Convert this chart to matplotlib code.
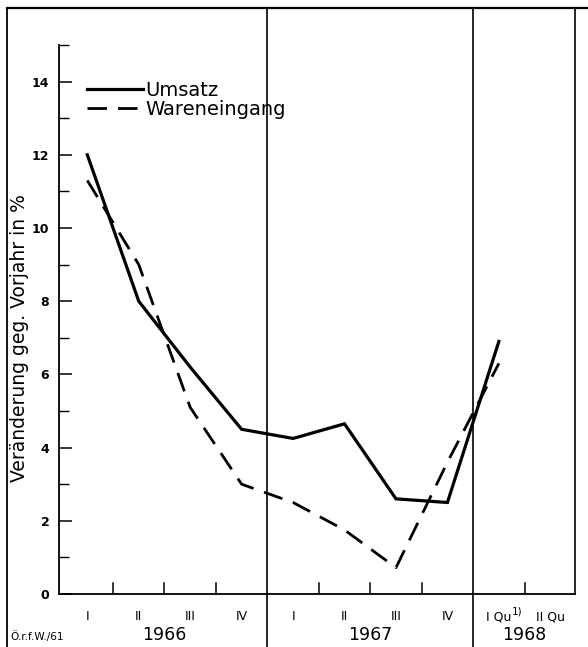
import matplotlib.pyplot as plt
from matplotlib.lines import Line2D

# quarters: 1966 I..IV, 1967 I..IV, 1968 I
quarters = ['I', 'II', 'III', 'IV', 'I', 'II', 'III', 'IV', 'I Qu', 'II Qu']
years = ['1966', '1967', '1968']
umsatz = [12.0, 8.0, 6.2, 4.5, 4.25, 4.65, 2.6, 2.5, 6.9]
wareneingang = [11.3, 9.0, 5.1, 3.0, 2.5, 1.75, 0.72, 3.6, 6.3]

W, H = 588, 647
fig = plt.figure(figsize=(W / 100, H / 100), dpi=100)
ax = fig.add_axes([59 / W, 53 / H, 516 / W, 549 / H])

x = list(range(len(umsatz)))
ax.plot(x, umsatz, color='black', lw=2.3, solid_joinstyle='miter', label='Umsatz')
ax.plot(x, wareneingang, color='black', lw=2.0, dashes=(7, 4), label='Wareneingang')

ax.set_xlim(-0.55, 9.48)
ax.set_ylim(0, 15)

# axes frame: left and bottom only, plus year separators
for s in ['top', 'right']:
    ax.spines[s].set_visible(False)
for s in ['left', 'bottom']:
    ax.spines[s].set_linewidth(1.3)

yt_top = (H - 8) / H
fig_bottom = -53 / 549
top_ax = (yt_top * H - 53) / 549
for xs in [3.5, 7.5]:
    ax.plot([xs, xs], [fig_bottom, top_ax], color='black', lw=1.2,
            transform=ax.get_xaxis_transform(), clip_on=False)
ax.plot([9.48, 9.48], [0, top_ax], color='black', lw=1.2,
        transform=ax.get_xaxis_transform(), clip_on=False)

# outer frame (top and left)
fig.add_artist(Line2D([7 / W, 1], [yt_top, yt_top], color='black', lw=1.6))
fig.add_artist(Line2D([7 / W, 7 / W], [0, yt_top], color='black', lw=1.3))

# y ticks
ax.set_yticks(range(0, 15, 2))
ax.set_yticks(range(1, 16, 2), minor=True)
ax.tick_params(axis='y', which='major', direction='in', length=9, width=1.1,
               labelsize=9, pad=7)
ax.tick_params(axis='y', which='minor', direction='in', length=7, width=1.0)
ax.tick_params(axis='x', which='both', bottom=False, labelbottom=False)
for lab in ax.get_yticklabels():
    lab.set_fontweight('bold')

# quarter boundary ticks on the x axis
for xb in [0.5, 1.5, 2.5, 4.5, 5.5, 6.5, 8.5]:
    ax.plot([xb, xb], [0, 0.3], color='black', lw=1.1, clip_on=False)

# quarter labels
trans = ax.get_xaxis_transform()
for i, q in enumerate(quarters):
    ax.text(i, -23 / 549, q, ha='center', va='center', fontsize=9,
            transform=trans)
ax.text(8.25, -18 / 549, '1)', ha='left', va='center', fontsize=7.5,
        transform=trans)
for i, yr in enumerate(years):
    xc = [1.5, 5.5, 8.5][i]
    ax.text(xc, -41 / 549, yr, ha='center', va='center', fontsize=12.5,
            transform=trans)

fig.text(10 / W, 10 / H, 'Ö.r.f.W./61', fontsize=7.5, ha='left', va='center')

fig.text(20 / W, (H - 338) / H, 'Veränderung geg. Vorjahr in %', fontsize=13.5,
         rotation=90, ha='center', va='center')

ax.legend(loc='upper left', bbox_to_anchor=(0.054, 0.935), frameon=False,
          fontsize=14, handlelength=2.9, handletextpad=0.1, borderpad=0,
          labelspacing=0.0, borderaxespad=0)

fig.savefig('out.png', dpi=100)
